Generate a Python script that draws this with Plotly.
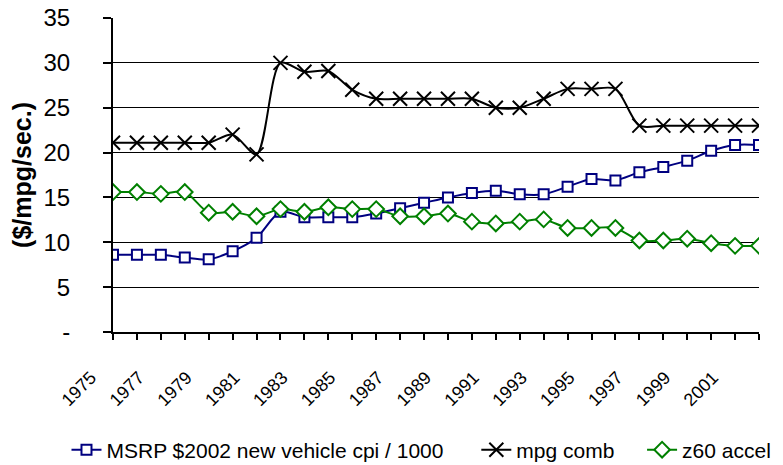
import plotly.graph_objects as go

years = list(range(1975, 2003))
msrp = [8.6, 8.6, 8.6, 8.3, 8.1, 9.0, 10.5, 13.4, 12.8, 12.8, 12.8, 13.2, 13.8, 14.4,
        15.0, 15.5, 15.75, 15.35, 15.35, 16.2, 17.05, 16.9, 17.8, 18.4, 19.1, 20.2, 20.85, 20.85]
mpg = [21.1, 21.1, 21.1, 21.1, 21.1, 22.0, 19.8, 30.0, 29.0, 29.1, 27.0, 26.0, 26.0, 26.0,
       26.0, 26.0, 25.0, 25.0, 26.0, 27.1, 27.1, 27.1, 23.0, 23.0, 23.0, 23.0, 23.0, 23.0]
z60 = [15.6, 15.6, 15.4, 15.6, 13.3, 13.4, 12.9, 13.7, 13.4, 13.9, 13.7, 13.7, 12.9, 12.9,
       13.2, 12.3, 12.1, 12.3, 12.55, 11.6, 11.6, 11.6, 10.2, 10.2, 10.4, 9.9, 9.6, 9.6]
series_names = ["MSRP $2002 new vehicle cpi / 1000", "mpg comb", "z60 accel"]
y_tickvals = [0, 5, 10, 15, 20, 25, 30, 35]
y_ticktext = ["-", "5", "10", "15", "20", "25", "30", "35"]
x_ticktext = [str(y) if y % 2 == 1 else "" for y in years]

FONT = "Arial, Liberation Sans, sans-serif"

fig = go.Figure()
fig.add_trace(go.Scatter(
    x=years, y=msrp, name=series_names[0], mode="lines+markers", legend="legend",
    line=dict(color="#000080", width=2, shape="spline", smoothing=0.8),
    marker=dict(symbol="square", size=10, color="white", line=dict(color="#000080", width=2))))
fig.add_trace(go.Scatter(
    x=years, y=mpg, name=series_names[1], mode="lines+markers", legend="legend2",
    line=dict(color="black", width=2, shape="spline", smoothing=0.8),
    marker=dict(symbol="x-thin-open", size=14, color="black", line=dict(color="black", width=2))))
fig.add_trace(go.Scatter(
    x=years, y=z60, name=series_names[2], mode="lines+markers", legend="legend3",
    line=dict(color="#008000", width=2, shape="spline", smoothing=0.8),
    marker=dict(symbol="diamond", size=12, color="white", line=dict(color="#008000", width=2))))

leg_common = dict(orientation="h", xanchor="left", y=-0.376, yanchor="middle",
                  font=dict(family=FONT, size=21, color="black"),
                  bgcolor="rgba(0,0,0,0)")

fig.update_layout(
    width=783, height=465,
    margin=dict(l=113, r=24, t=18, b=133, autoexpand=False),
    paper_bgcolor="white", plot_bgcolor="white",
    showlegend=True,
    legend=dict(x=-0.072, **leg_common),
    legend2=dict(x=0.5624, **leg_common),
    legend3=dict(x=0.819, **leg_common),
    xaxis=dict(range=[1975, 2002], tickvals=years, ticktext=x_ticktext, tickangle=-45,
               ticks="outside", ticklen=6, tickwidth=2, tickcolor="black", automargin=False,
               showline=True, linecolor="black", linewidth=2, showgrid=False, zeroline=False,
               tickfont=dict(family=FONT, size=18, color="black"), ticklabeloverflow="allow",
               ticklabelstandoff=20, ticklabelshift=-22),
    xaxis2=dict(range=[1975, 2002], overlaying="x", anchor="y", side="bottom", automargin=False,
                tickvals=years, ticktext=["" for _ in years], ticks="inside", ticklen=6,
                tickwidth=2, tickcolor="black", showline=False, showgrid=False, zeroline=False),
    yaxis=dict(range=[0, 35], tickvals=y_tickvals, ticktext=y_ticktext, automargin=False,
               ticks="outside", ticklen=8, tickwidth=2, tickcolor="black",
               showline=True, linecolor="black", linewidth=2,
               showgrid=True, gridcolor="black", gridwidth=1, zeroline=False,
               tickfont=dict(family=FONT, size=24, color="black"), ticklabelstandoff=28,
               ticklabeloverflow="allow"),
    yaxis2=dict(range=[0, 35], overlaying="y", anchor="x", side="left", automargin=False,
                tickvals=y_tickvals, ticktext=["" for _ in y_tickvals], ticks="inside",
                ticklen=8, tickwidth=2, tickcolor="black", showline=False, showgrid=False,
                zeroline=False),
    annotations=[dict(text="<b>($/mpg/sec.)</b>", xref="paper", yref="paper",
                      x=-0.141, y=0.5, xanchor="center", yanchor="middle", textangle=-90,
                      showarrow=False, font=dict(family=FONT, size=25, color="black"))],
)

# remove the default 8px page margin so the 783x465 figure fills the window exactly
fig.write_html("out.html", config={"displayModeBar": False},
               post_script="document.body.style.margin='0';")
